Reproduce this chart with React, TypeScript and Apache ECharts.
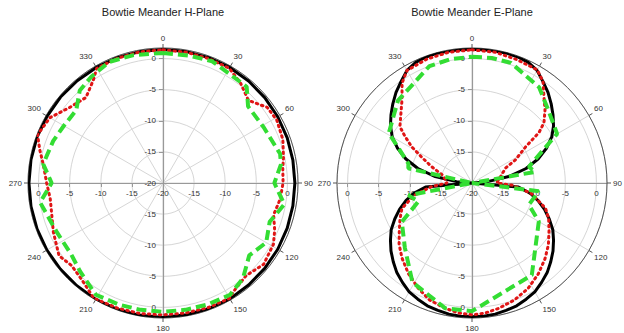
import React, { useEffect, useRef } from "react";
import * as echarts from "echarts";

// Radial scale in dB: -20 at the centre, rings every 5 dB, outer rim just above 0 dB
const radiusMin = -20;
const radiusMax = 1.7;
const radiusStep = 5;

const titles = ["Bowtie Meander H-Plane", "Bowtie Meander E-Plane"];

// Angles (deg, clockwise from top) for the simulated H-plane curve
const hAngles = [
  0, 10, 20, 30, 40, 50, 60, 70, 80, 90, 100, 110, 120, 130, 140, 150, 160, 170, 180,
  190, 200, 210, 220, 230, 240, 250, 260, 270, 280, 290, 300, 310, 320, 330, 340, 350, 360,
];

// H-plane: simulated (black), measured 1 (red dotted), measured 2 (green dashed)
const hBlack = [
  1.45, 1.45, 1.45, 1.45, 1.4, 1.35, 1.3, 1.25, 1.2, 1.2, 1.2, 1.25, 1.3, 1.35, 1.4, 1.5, 1.5, 1.5, 1.6,
  1.6, 1.6, 1.6, 1.55, 1.55, 1.55, 1.55, 1.55, 1.55, 1.55, 1.55, 1.5, 1.5, 1.45, 1.45, 1.45, 1.45, 1.45,
];

const hRed: [number, number][] = [
  [0, 1.4], [10, 1.35], [20, 1.3], [30, 1.3], [38, 0.3], [46, -0.9], [54, 0.7], [61, 0.9],
  [70, 0.5], [78, -0.2], [83, -0.6], [90, -0.7], [98, -1.0], [106, -1.5], [113, -0.5],
  [119, 0.3], [129, 0.8], [138, 0.0], [147, 0.8], [150, 1.4], [160, 1.3], [170, 1.2],
  [180, 1.2], [190, 1.3], [200, 1.4], [211, 1.6], [220, 0.3], [228, -0.2], [235, 0.4],
  [246, -0.7], [254, -1.4], [262, -1.7], [270, -1.3], [279, -0.5], [285, 0.5], [291, 1.6],
  [300, 1.0], [309, -0.7], [318, -1.5], [326, 0.0], [330, 1.3], [340, 1.35], [350, 1.4],
  [360, 1.4],
];

const hGreen: [number, number][] = [
  [0, 0.9], [12, 0.9], [22, 1.1], [33, 0.5], [41, 0.5], [48, -1.6], [61, -1.5], [76, -0.6],
  [81, -0.8], [90, -2.1], [100, -0.2], [110, -1.75], [120, -0.85], [130, -1.9], [140, 0.0],
  [149, 0.95], [160, 0.8], [170, 0.7], [180, 0.7], [190, 0.7], [200, 0.8], [211, 0.95],
  [223, -0.5], [232, -1.3], [245, -1.2], [261, 0.0], [270, -2.1], [279, -0.5], [291, -1.1],
  [300, -1.6], [310, -1.8], [318, 0.0], [326, 0.6], [336, 1.3], [347, 1.1], [360, 0.9],
];

// E-plane simulated pattern, every 5 degrees: figure-eight with nulls at 90 and 270
const eAngles = Array.from({ length: 73 }, (_, i) => i * 5);
const eBlack = [
  1.5, 1.5, 1.55, 1.6, 1.55, 1.4, 0.9, -0.1, -1.0, -2.0, -3.0, -4.0, -5.2, -6.8, -8.7, -11, -14, -17.5,
  -20, -12.5, -10.5, -9, -7.6, -6.3, -5.0, -4.0, -3.0, -2.1, -1.2, -0.5, 0.2, 0.6, 1.0, 1.2, 1.4, 1.5,
  1.5, 1.5, 1.4, 1.2, 1.0, 0.6, 0.2, -0.5, -1.2, -2.1, -3.0, -4.0, -5.0, -6.3, -7.6, -9, -10.5, -12.5,
  -20, -17.5, -14, -11, -8.7, -6.8, -5.2, -4.0, -3.0, -2.0, -1.0, -0.1, 0.9, 1.4, 1.55, 1.6, 1.55, 1.5,
  1.5,
];

const eRed: [number, number][] = [
  [0, 1.4], [10, 1.35], [20, 1.1], [30, 1.0], [35, -0.1], [40, -2.0], [45, -3.4], [50, -4.9],
  [53, -6.5], [56, -9.6], [62, -12.1], [66, -14.1], [75, -15.1], [85, -15.8], [90, -16],
  [93, -13.6], [100, -10.3], [109, -7.5], [115, -6.4], [122, -5.4], [129, -4.2], [136, -3.1],
  [144, -1.9], [152, -0.8], [160, 0], [168, 0.6], [174, 1.0], [180, 1.2], [186, 1.0],
  [192, 0.6], [200, 0], [207, -1.0], [215, -2.2], [223, -3.5], [230, -4.7], [236, -5.9],
  [243, -7], [250, -8], [258, -10.5], [265, -13.5], [270, -16], [275, -15.8], [285, -15.1],
  [292, -13], [297, -11], [301, -8.7], [305, -6.8], [308, -5.3], [314, -4.1], [320, -2.5],
  [325, -0.4], [330, 0.9], [340, 1.2], [350, 1.35], [360, 1.4],
];

const eGreen: [number, number][] = [
  [0, 0.3], [9, 0.35], [18, 0.3], [35, -1.2], [46, -3.0], [60, -4.2], [74, -10.5], [80, -9.7],
  [90, -20], [97, -9.2], [111, -10.2], [120, -7.6], [147, -2.35], [180, 0.6], [192, 0.6],
  [211, -1.4], [226, -5], [241, -7.1], [251, -10.9], [259, -9.6], [270, -20], [283, -9.5],
  [287, -9.3], [301, -4.4], [318, -2.2], [340, 0.0], [350, 0.2], [360, 0.3],
];

const FONT = "'Liberation Sans', Arial, sans-serif";
const CENTERS: [number, number][] = [
  [163, 183],
  [472, 183],
];
const RADIUS = 135;
// one copy of the radial scale pointing up, down, left and right
const AXIS_DIRS = [90, 270, 180, 0];

function tickLabel(showCentre: boolean) {
  return (v: number) => {
    if (Math.abs(v % radiusStep) > 1e-6) return "";
    if (!showCentre && v === radiusMin) return "";
    return String(v);
  };
}

function buildOption() {
  const polar: any[] = [];
  const angleAxis: any[] = [];
  const radiusAxis: any[] = [];

  CENTERS.forEach((center) => {
    AXIS_DIRS.forEach((dir, k) => {
      const idx = polar.length;
      polar.push({ center, radius: RADIUS });
      if (k === 0) {
        angleAxis.push({
          polarIndex: idx,
          type: "value",
          min: 0,
          max: 360,
          interval: 30,
          startAngle: 90,
          clockwise: true,
          axisLine: { lineStyle: { color: "#555", width: 1 } },
          axisTick: { show: true, length: 4, lineStyle: { color: "#555" } },
          axisLabel: { fontSize: 8, color: "#333", margin: 6, fontFamily: FONT },
          splitLine: { show: true, lineStyle: { color: "#d6d6d6", width: 1 } },
        });
      } else {
        angleAxis.push({
          polarIndex: idx,
          type: "value",
          min: 0,
          max: 360,
          startAngle: dir,
          clockwise: true,
          show: false,
        });
      }

      const label: any = {
        fontSize: 8,
        color: "#333",
        fontFamily: FONT,
        formatter: tickLabel(k === 0 || k === 2),
        margin: 7,
      };
      if (k === 1) {
        label.align = "right";
        label.margin = -7;
      }
      if (k === 3) {
        label.verticalAlign = "top";
        label.margin = -6;
      }
      if (k === 2) label.margin = 6;

      radiusAxis.push({
        polarIndex: idx,
        type: "value",
        min: radiusMin,
        max: radiusMax,
        interval: radiusStep,
        axisLine: { show: true, lineStyle: { color: "#999", width: 1.2 } },
        axisTick: { show: k === 0 || k === 2, length: 4, lineStyle: { color: "#999" } },
        axisLabel: label,
        splitLine: { show: k === 0, lineStyle: { color: "#d6d6d6", width: 1 } },
      });
    });
  });

  const black = (polarIndex: number, angles: number[], vals: number[]) => ({
    type: "line",
    coordinateSystem: "polar",
    polarIndex,
    data: angles.map((a, i) => [vals[i], a]),
    showSymbol: false,
    symbol: "none",
    silent: true,
    lineStyle: { color: "#000", width: 3 },
    z: 3,
  });
  const red = (polarIndex: number, pts: [number, number][]) => ({
    type: "line",
    coordinateSystem: "polar",
    polarIndex,
    data: pts.map(([a, v]) => [v, a]),
    showSymbol: false,
    symbol: "none",
    silent: true,
    lineStyle: { color: "#e01515", width: 3, type: [1.5, 4], cap: "round" },
    z: 4,
  });
  const green = (polarIndex: number, pts: [number, number][]) => ({
    type: "line",
    coordinateSystem: "polar",
    polarIndex,
    data: pts.map(([a, v]) => [v, a]),
    showSymbol: false,
    symbol: "none",
    silent: true,
    lineStyle: { color: "#33dd33", width: 4, type: [10, 5] },
    z: 5,
  });

  return {
    animation: false,
    backgroundColor: "#fff",
    textStyle: { fontFamily: FONT },
    graphic: titles.map((t, i) => ({
      type: "text",
      x: CENTERS[i][0],
      y: 12,
      style: {
        text: t,
        fontSize: 11,
        fontFamily: FONT,
        fill: "#222",
        align: "center",
        verticalAlign: "middle",
      },
    })),
    polar,
    angleAxis,
    radiusAxis,
    series: [
      black(0, hAngles, hBlack),
      red(0, hRed),
      green(0, hGreen),
      black(4, eAngles, eBlack),
      red(4, eRed),
      green(4, eGreen),
    ],
  };
}

export default function App() {
  const ref = useRef<HTMLDivElement>(null);
  useEffect(() => {
    if (!ref.current) return;
    const chart = echarts.init(ref.current, undefined, { renderer: "svg" });
    chart.setOption(buildOption() as any);
    return () => chart.dispose();
  }, []);
  return (
    <div
      ref={ref}
      style={{ position: "absolute", left: 0, top: 0, width: 624, height: 333, background: "#fff" }}
    />
  );
}
